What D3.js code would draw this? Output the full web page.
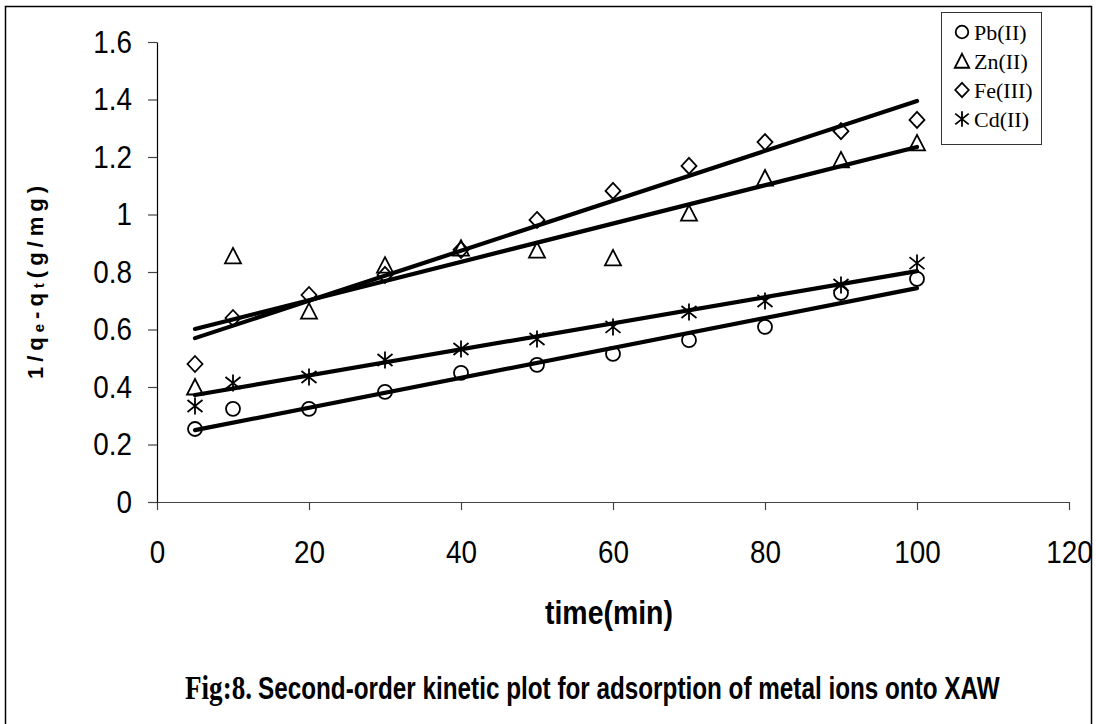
<!DOCTYPE html>
<html><head><meta charset="utf-8">
<script src="https://cdn.jsdelivr.net/npm/d3@7/dist/d3.min.js"></script>
<style>body{margin:0;background:#fff} svg{display:block}</style>
</head><body>
<svg id="chart" width="1096" height="724"></svg>
<script>
// ---- data ----
const times = [5, 10, 20, 30, 40, 50, 60, 70, 80, 90, 100];
const pbValues = [0.254, 0.324, 0.324, 0.383, 0.449, 0.477, 0.515, 0.563, 0.609, 0.727, 0.776];
const znValues = [0.400, 0.856, 0.664, 0.824, 0.883, 0.876, 0.849, 1.005, 1.127, 1.190, 1.249];
const feValues = [0.480, 0.640, 0.720, 0.790, 0.877, 0.981, 1.082, 1.169, 1.252, 1.290, 1.329];
const cdValues = [0.334, 0.414, 0.435, 0.494, 0.532, 0.567, 0.609, 0.661, 0.699, 0.755, 0.831];
const seriesNames = ["Pb(II)", "Zn(II)", "Fe(III)", "Cd(II)"];
const markerTypes = ["circle", "triangle", "diamond", "asterisk"];
const trendX = [5, 100];
const trendStart = [0.250, 0.602, 0.570, 0.372];
const trendEnd = [0.744, 1.235, 1.395, 0.803];
const xTicks = [0, 20, 40, 60, 80, 100, 120];
const yTicks = [0, 0.2, 0.4, 0.6, 0.8, 1.0, 1.2, 1.4, 1.6];
const yTickLabels = ["0", "0.2", "0.4", "0.6", "0.8", "1", "1.2", "1.4", "1.6"];
const xTitle = "time(min)";
const captionFig = "Fig:8.";
const captionText = "Second-order kinetic plot for adsorption of metal ions onto XAW";

const seriesValues = [pbValues, znValues, feValues, cdValues];

const svg = d3.select("#chart");
const SANS = "'Liberation Sans', Arial, Helvetica, sans-serif";
const SERIF = "'Liberation Serif', 'Times New Roman', serif";

// outer frame
svg.append("rect").attr("x", 5.5).attr("y", 6.5).attr("width", 1086).attr("height", 740)
  .attr("fill", "none").attr("stroke", "#000").attr("stroke-width", 1.5);

const x = d3.scaleLinear().domain([0, 120]).range([157, 1069]);
const y = d3.scaleLinear().domain([0, 1.6]).range([502, 42]);

const K = 0.87; // horizontal squeeze of the tick labels

// axes
const gx = svg.append("g").attr("transform", "translate(0,502)")
  .call(d3.axisBottom(x).tickValues(xTicks).tickSize(8).tickPadding(30).tickSizeOuter(0).tickFormat(d3.format("d")));
gx.select(".domain").attr("stroke", "#444").attr("stroke-width", 1.2);
gx.selectAll(".tick line").attr("stroke", "#444").attr("stroke-width", 1.2);
gx.selectAll("text").attr("font-family", SANS).attr("font-size", 32).attr("fill", "#000")
  .attr("transform", `scale(${K},1)`);

const gy = svg.append("g").attr("transform", "translate(157,0)")
  .call(d3.axisLeft(y).tickValues(yTicks).tickSize(9).tickPadding(16).tickSizeOuter(0)
    .tickFormat((d, i) => yTickLabels[i]));
gy.select(".domain").attr("stroke", "#000").attr("stroke-width", 1.2);
gy.selectAll(".tick line").attr("stroke", "#444").attr("stroke-width", 1.2);
gy.selectAll("text").attr("font-family", SANS).attr("font-size", 32).attr("fill", "#000")
  .attr("x", -25 / K).attr("transform", `scale(${K},1)`);

// markers
const markerPath = {
  circle: "M-7,0a7,7 0 1,0 14,0a7,7 0 1,0 -14,0",
  triangle: "M0,-8L8,7.5L-8,7.5Z",
  diamond: "M0,-8L7.5,0L0,8L-7.5,0Z",
  asterisk: "M0,-8.5V8.5M-7.5,-6L7.5,6M-7.5,6L7.5,-6"
};

const gPts = svg.append("g");
seriesValues.forEach((vals, s) => {
  gPts.selectAll(null).data(vals.map((v, i) => [times[i], v])).enter().append("path")
    .attr("d", markerPath[markerTypes[s]])
    .attr("transform", d => `translate(${x(d[0])},${y(d[1])})`)
    .attr("fill", "none").attr("stroke", "#000").attr("stroke-width", 1.8);
});

// trend lines
const line = d3.line().x(d => x(d[0])).y(d => y(d[1]));
seriesNames.forEach((n, s) => {
  svg.append("path").attr("d", line([[trendX[0], trendStart[s]], [trendX[1], trendEnd[s]]]))
    .attr("fill", "none").attr("stroke", "#000").attr("stroke-width", 4.2).attr("stroke-linecap", "round");
});

// legend
const lg = svg.append("g");
lg.append("rect").attr("x", 941.5).attr("y", 12.5).attr("width", 100).attr("height", 132)
  .attr("fill", "#fff").attr("stroke", "#333").attr("stroke-width", 1);
seriesNames.forEach((n, s) => {
  const cy = 32 + s * 29;
  lg.append("path").attr("d", markerPath[markerTypes[s]])
    .attr("transform", `translate(962,${cy}) scale(0.9)`)
    .attr("fill", "none").attr("stroke", "#000").attr("stroke-width", 2);
  lg.append("text").attr("x", 974).attr("y", cy + 7.5).text(n)
    .attr("font-family", SERIF).attr("font-size", 22).attr("fill", "#000");
});

// text squeezed horizontally to a target width via a transform
function fitText(txt, x0, y0, target) {
  const w = txt.node().getComputedTextLength();
  txt.attr("x", 0).attr("y", 0).attr("transform", `translate(${x0},${y0}) scale(${target / w},1)`);
}

// y title
const yt = svg.append("text").attr("transform", "translate(43,280) rotate(-90)")
  .attr("text-anchor", "middle").attr("font-family", SANS).attr("font-weight", "bold")
  .attr("font-size", 22).attr("letter-spacing", 5).attr("fill", "#000");
yt.append("tspan").text("1/q");
yt.append("tspan").text("e").attr("font-size", 15).attr("dy", 1);
yt.append("tspan").text("-q").attr("dy", -1);
yt.append("tspan").text("t").attr("font-size", 15).attr("dy", 1);
yt.append("tspan").text("(g/mg)").attr("dy", -1);

// x title
const xt = svg.append("text").text(xTitle)
  .attr("font-family", SANS).attr("font-weight", "bold").attr("font-size", 33).attr("fill", "#000");
fitText(xt, 545, 624, 128);

// caption
const cf = svg.append("text").text(captionFig)
  .attr("font-family", SERIF).attr("font-weight", "bold").attr("font-size", 33).attr("fill", "#000");
fitText(cf, 185, 699, 67);
const ct = svg.append("text").text(captionText)
  .attr("font-family", SANS).attr("font-weight", "bold").attr("font-size", 32).attr("fill", "#000");
fitText(ct, 258, 699, 742);
</script>
</body></html>
